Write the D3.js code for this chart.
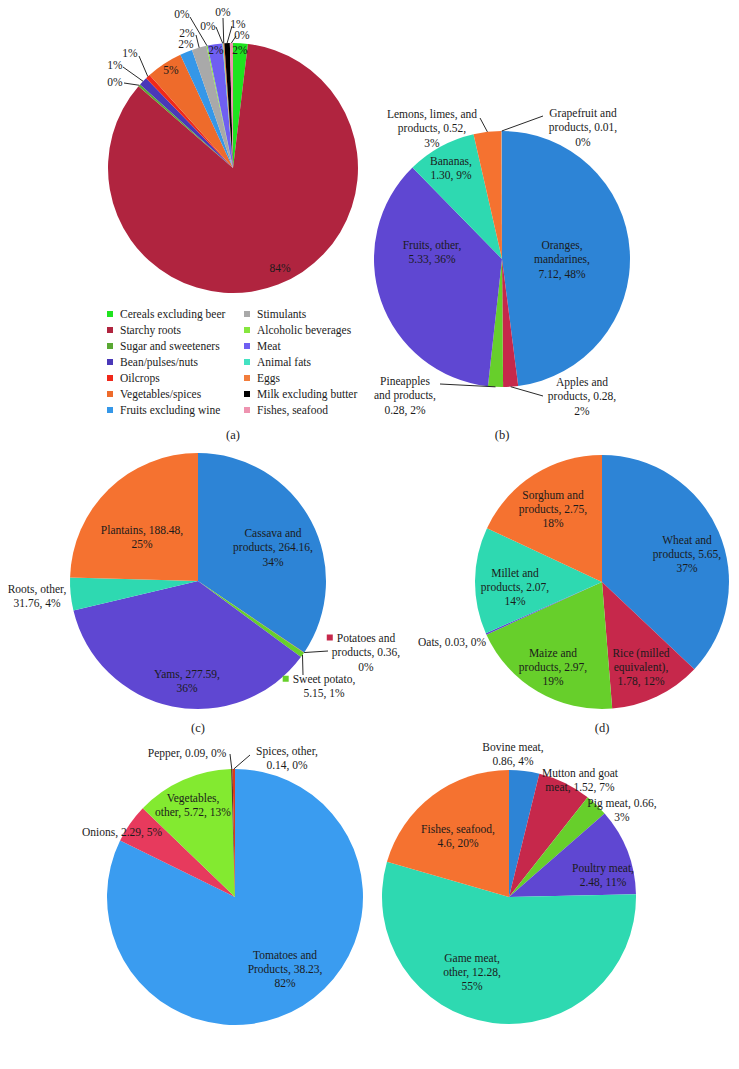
<!DOCTYPE html>
<html><head><meta charset="utf-8">
<script src="https://cdn.jsdelivr.net/npm/d3@7"></script>
<style>body{margin:0;background:#fff}svg{display:block}</style>
</head><body>
<svg id="chart" width="739" height="1069"></svg>
<script>
// ---------- DATA ----------
// (a) food groups
const aCategories = ["Cereals excluding beer","Starchy roots","Sugar and sweeteners","Bean/pulses/nuts","Oilcrops","Vegetables/spices","Fruits excluding wine","Stimulants","Alcoholic beverages","Meat","Animal fats","Eggs","Milk excluding butter","Fishes, seafood"];
const aValues = [1.9,84.2,0.3,1.1,0.6,4.7,1.6,1.9,0.15,1.9,0.1,0.15,0.7,0.4];
const aLabels = ["2%","84%","0%","1%","1%","5%","2%","2%","0%","2%","0%","0%","1%","0%"];
const aColors = ["#1fe31f","#b0243f","#5aa834","#4a38b8","#f0281a","#ee6b2b","#3597e8","#a9a9a9","#86e63e","#6f5ff2","#43e2c2","#f27d3c","#000000","#ee93b0"];
// legend order (two columns)
const aLegendCol1 = [0,1,2,3,4,5,6];
const aLegendCol2 = [7,8,9,10,11,12,13];

// (b) fruits
const bCategories = ["Oranges, mandarines","Apples and products","Pineapples and products","Fruits, other","Bananas","Lemons, limes, and products","Grapefruit and products"];
const bValues = [7.12,0.28,0.28,5.33,1.30,0.52,0.01];
const bLabels = [["Oranges,","mandarines,","7.12, 48%"],["Apples and","products, 0.28,","2%"],["Pineapples","and products,","0.28, 2%"],["Fruits, other,","5.33, 36%"],["Bananas,","1.30, 9%"],["Lemons, limes, and","products, 0.52,","3%"],["Grapefruit and","products, 0.01,","0%"]];
const bColors = ["#2d84d6","#c6284b","#67cf2b","#5f47d2","#2ed9b1","#f57230","#a0a0a0"];

// (c) starchy roots
const cCategories = ["Cassava and products","Potatoes and products","Sweet potato","Yams","Roots, other","Plantains"];
const cValues = [264.16,0.36,5.15,277.59,31.76,188.48];
const cLabels = [["Cassava and","products, 264.16,","34%"],["Potatoes and","products, 0.36,","0%"],["Sweet potato,","5.15, 1%"],["Yams, 277.59,","36%"],["Roots, other,","31.76, 4%"],["Plantains, 188.48,","25%"]];
const cColors = ["#2d84d6","#c6284b","#67cf2b","#5f47d2","#2ed9b1","#f57230"];

// (d) cereals
const dCategories = ["Wheat and products","Rice (milled equivalent)","Maize and products","Oats","Millet and products","Sorghum and products"];
const dValues = [5.65,1.78,2.97,0.03,2.07,2.75];
const dLabels = [["Wheat and","products, 5.65,","37%"],["Rice (milled","equivalent),","1.78, 12%"],["Maize and","products, 2.97,","19%"],["Oats, 0.03, 0%"],["Millet and","products, 2.07,","14%"],["Sorghum and","products, 2.75,","18%"]];
const dColors = ["#2d84d6","#c6284b","#67cf2b","#5f47d2","#2ed9b1","#f57230"];

// (e) vegetables
const eCategories = ["Tomatoes and Products","Onions","Vegetables, other","Pepper","Spices, other"];
const eValues = [38.23,2.29,5.72,0.09,0.14];
const eLabels = [["Tomatoes and","Products, 38.23,","82%"],["Onions, 2.29, 5%"],["Vegetables,","other, 5.72, 13%"],["Pepper, 0.09, 0%"],["Spices, other,","0.14, 0%"]];
const eColors = ["#3a9cf0","#e73a5d","#83ea30","#5b3b20","#e0391a"];

// (f) meat
const fCategories = ["Bovine meat","Mutton and goat meat","Pig meat","Poultry meat","Game meat, other","Fishes, seafood"];
const fValues = [0.86,1.52,0.66,2.48,12.28,4.6];
const fLabels = [["Bovine meat,","0.86, 4%"],["Mutton and goat","meat, 1.52, 7%"],["Pig meat, 0.66,","3%"],["Poultry meat,","2.48, 11%"],["Game meat,","other, 12.28,","55%"],["Fishes, seafood,","4.6, 20%"]];
const fColors = ["#2d84d6","#c6284b","#67cf2b","#5f47d2","#2ed9b1","#f57230"];

const subtitles = ["(a)","(b)","(c)","(d)","(e)","(f)"];

// ---------- LAYOUT ----------
const FONT = "'Liberation Serif','Times New Roman',serif";
const FS = 11.5, LH = 14;
// label positions relative to pie center: [dx, dy]; leader: [dx,dy] start (null = none)
const layouts = [
  {cx:233, cy:168, r:125, sub:[0,267], lh:14,
   pos:[[7,-118],[47,100],[-118,-86],[-118,-103],[-103,-115],[-62,-98],[-47,-124],[-46,-135],[-51,-154],[-17,-118],[-25,-142],[-10,-156],[5,-144],[9,-133]],
   lead:[null,null,[-109,-85],[-110,-101],[-94,-112],null,null,[-37,-133],[-43,-151],null,[-17,-141],[-10,-150],[-1,-142],[3,-132]]},
  {cx:502, cy:259, r:128, sub:[0,176], lh:14.5,
   pos:[[60,0],[80,137],[-97,136],[-70,-7],[-51,-91],[-70,-131],[81,-132]],
   lead:[null,[41,137],[-62,125],null,null,[-22,-141],[41,-143]]},
  {cx:198, cy:581, r:128, sub:[0,147], lh:14.5,
   pos:[[75,-34],[168,71],[126,105],[-11,100],[-161,15],[-56,-44]],
   lead:[null,[130,70],[105,94],null,null,null],
   keys:[false,true,true,false,false,false]},
  {cx:602, cy:582, r:127, sub:[0,146], lh:14,
   pos:[[85,-28],[39,85],[-49,85],[-150,60],[-87,5],[-49,-73]],
   lead:[null,null,null,null,null,null]},
  {cx:235, cy:897, r:128, sub:null, lh:14,
   pos:[[50,72],[-113,-65],[-42,-92],[-48,-144],[52,-139]],
   lead:[null,null,null,[-5,-143],[15,-142]]},
  {cx:509, cy:897, r:127, sub:null, lh:14,
   pos:[[4,-143],[71,-117],[113,-87],[94,-22],[-37,75],[-51,-61]],
   lead:[null,null,null,null,null,null]}
];

const pies = [
  {values:aValues, labels:aLabels.map(s=>[s]), colors:aColors},
  {values:bValues, labels:bLabels, colors:bColors},
  {values:cValues, labels:cLabels, colors:cColors},
  {values:dValues, labels:dLabels, colors:dColors},
  {values:eValues, labels:eLabels, colors:eColors},
  {values:fValues, labels:fLabels, colors:fColors}
];

const svg = d3.select("#chart");
const pieGen = d3.pie().sort(null).value(d => d);

function drawText(g, lines, x, y, lh) {
  const t = g.append("text")
    .attr("text-anchor","middle")
    .attr("font-family",FONT).attr("font-size",FS).attr("fill","#1b1b1b");
  const y0 = y - (lines.length-1)*lh/2 + 4;
  lines.forEach((ln,i)=>{
    t.append("tspan").attr("x",x).attr("y",y0+i*lh).text(ln);
  });
  return t;
}

pies.forEach((p, k) => {
  const L = layouts[k];
  const g = svg.append("g").attr("transform",`translate(${L.cx},${L.cy})`);
  const arcs = pieGen(p.values);
  const arc = d3.arc().innerRadius(0).outerRadius(L.r);
  const edge = d3.arc().innerRadius(L.r).outerRadius(L.r);
  g.selectAll("path.slice").data(arcs).join("path")
    .attr("class","slice")
    .attr("d",arc)
    .attr("fill",(d,i)=>p.colors[i]);
  // leaders
  arcs.forEach((a,i)=>{
    const s = L.lead[i];
    if (!s) return;
    const e = edge.centroid(a);
    g.append("path")
      .attr("d", d3.line()([s, e]))
      .attr("fill","none").attr("stroke","#111").attr("stroke-width",0.9);
  });
  // labels
  arcs.forEach((a,i)=>{
    const [dx,dy] = L.pos[i];
    const t = drawText(g, p.labels[i], dx, dy, L.lh);
    if (L.keys && L.keys[i]) {
      // legend-key square before first line
      const first = t.select("tspan").node();
      const w = first.getComputedTextLength();
      const y0 = dy - (p.labels[i].length-1)*L.lh/2;
      g.append("rect")
        .attr("x", dx - w/2 - 10).attr("y", y0 - 3)
        .attr("width",6).attr("height",6)
        .attr("fill",p.colors[i]);
    }
  });
  if (L.sub) drawText(g, [subtitles[k]], L.sub[0], L.sub[1], 14).attr("font-size",12.5);
});

// legend for (a)
const leg = svg.append("g");
const rowY = d3.scalePoint().domain(d3.range(7)).range([314, 410]);
[[aLegendCol1,110],[aLegendCol2,247]].forEach(([col,x])=>{
  col.forEach((idx,r)=>{
    const y = rowY(r);
    leg.append("rect").attr("x",x-3).attr("y",y-3).attr("width",6).attr("height",6).attr("fill",aColors[idx]);
    leg.append("text").attr("x",x+10).attr("y",y+4)
      .attr("font-family",FONT).attr("font-size",FS).attr("fill","#1b1b1b")
      .text(aCategories[idx]);
  });
});
</script>
</body></html>
